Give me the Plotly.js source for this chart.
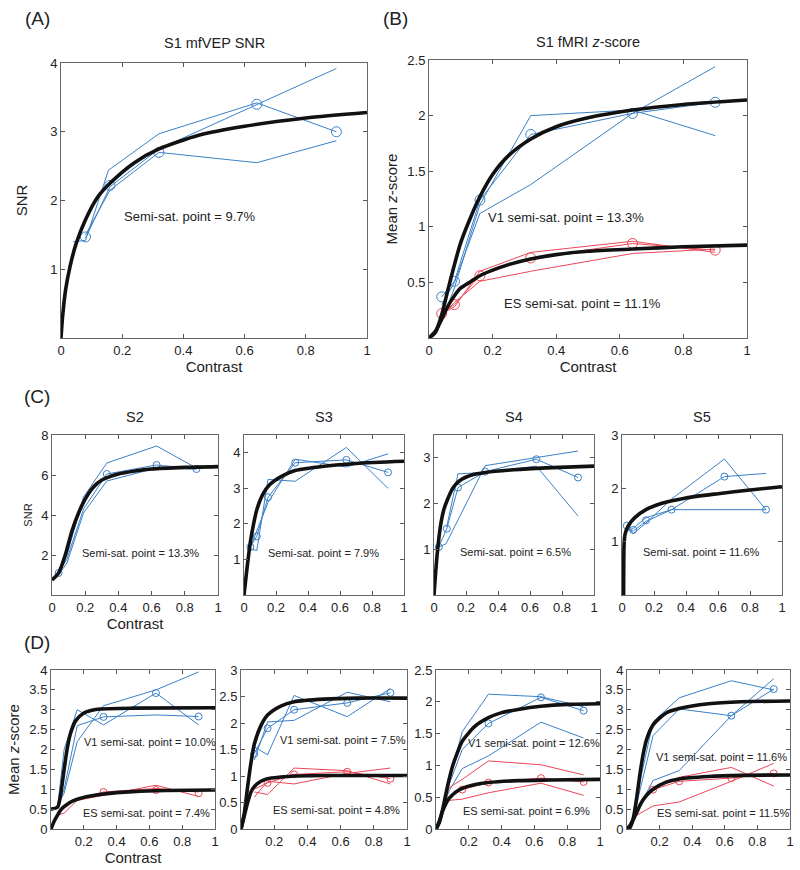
<!DOCTYPE html>
<html><head><meta charset="utf-8">
<script src="https://cdn.plot.ly/plotly-3.0.1.min.js"></script>
<style>html,body{margin:0;padding:0;background:#fff}#chart{width:800px;height:870px}</style>
</head><body><div id="chart"></div>
<script>
// ---------- Panel A : S1 mfVEP SNR ----------
const A_x1 = [0.04,0.08,0.155,0.32,0.64,0.9];
const A_y1 = [1.40,1.42,2.44,2.97,3.42,3.00];
const A_x2 = [0.08,0.16,0.32,0.64,0.9];
const A_y2 = [1.45,2.20,2.75,3.40,3.92];
const A_x3 = [0.08,0.16,0.32,0.64,0.9];
const A_y3 = [1.50,2.15,2.70,2.55,2.87];
const A_cx = [0.08,0.16,0.32,0.64,0.9];
const A_cy = [1.47,2.22,2.70,3.40,3.00];
const A_fx = [0,0.005,0.015,0.03,0.05,0.08,0.12,0.16,0.24,0.32,0.45,0.6,0.8,1];
const A_fy = [0,0.30,0.70,1.05,1.38,1.72,2.05,2.25,2.55,2.75,2.95,3.08,3.20,3.28];

// ---------- Panel B : S1 fMRI z-score ----------
const B_x = [0.04,0.08,0.16,0.32,0.64,0.9];
const B_v1_y1 = [0.15,0.45,1.20,2.00,2.05,1.82];
const B_v1_y2 = [0.30,0.50,1.12,1.38,2.02,2.44];
const B_v1_c  = [0.37,0.51,1.24,1.83,2.02,2.12];
const B_es_y1 = [0.22,0.28,0.60,0.77,0.87,0.77];
const B_es_y2 = [0.20,0.32,0.51,0.60,0.76,0.80];
const B_es_c  = [0.22,0.30,0.56,0.72,0.85,0.79];
const B_fx = [0,0.02,0.04,0.06,0.08,0.1,0.133,0.16,0.2,0.25,0.32,0.4,0.5,0.64,0.8,1];
const B_v1_f = [0,0.05,0.21,0.44,0.66,0.86,1.10,1.27,1.47,1.64,1.79,1.90,1.98,2.05,2.10,2.14];
const B_es_f = [0,0.06,0.17,0.29,0.38,0.45,0.51,0.56,0.61,0.66,0.71,0.75,0.78,0.80,0.82,0.835];

// ---------- Panel C : S2..S5 mfVEP SNR ----------
const C2_x = [0.04,0.09,0.19,0.33,0.63,0.87];
const C2_y1 = [1.1,2.0,4.9,6.6,7.45,6.35];
const C2_y2 = [1.0,1.6,4.1,5.7,6.35,6.3];
const C2_y3 = [1.1,1.8,4.3,6.05,6.5,6.3];
const C2_cx = [0.04,0.33,0.63,0.87];
const C2_cy = [1.1,6.05,6.5,6.3];
const C2_fx = [0,0.04,0.08,0.12,0.16,0.2,0.25,0.3,0.4,0.5,0.6,0.8,1];
const C2_fy = [0.75,1.1,2.0,3.2,4.1,4.8,5.4,5.75,6.05,6.2,6.3,6.38,6.42];

const C3_x = [0.04,0.08,0.15,0.32,0.64,0.9];
const C3_y1 = [1.3,1.25,3.25,3.2,4.15,3.0];
const C3_y2 = [1.35,1.8,2.6,3.82,3.6,3.97];
const C3_y3 = [1.35,1.65,2.75,3.72,3.8,3.45];
const C3_fx = [0,0.02,0.04,0.06,0.08,0.12,0.16,0.24,0.32,0.5,0.7,1];
const C3_fy = [0,0.8,1.5,2.0,2.4,2.85,3.1,3.35,3.5,3.62,3.7,3.76];

const C4_x1 = [0.03,0.075,0.32,0.64,0.9];
const C4_y1 = [1.05,1.12,2.83,3.0,3.15];
const C4_x2 = [0.08,0.15,0.32,0.64,0.9];
const C4_y2 = [1.5,2.65,2.68,2.82,1.73];
const C4_x3 = [0.03,0.08,0.15,0.32,0.64,0.9];
const C4_y3 = [1.05,1.45,2.35,2.7,2.97,2.57];
const C4_fx = [0,0.02,0.04,0.06,0.08,0.12,0.16,0.24,0.32,0.5,0.7,1];
const C4_fy = [0,0.9,1.5,1.85,2.05,2.35,2.5,2.63,2.68,2.74,2.78,2.82];

const C5_x = [0.03,0.07,0.15,0.31,0.64,0.9];
const C5_y1 = [1.25,1.2,1.38,1.6,2.22,2.28];
const C5_y2 = [1.3,1.15,1.35,1.8,2.55,1.6];
const C5_x3 = [0.03,0.07,0.15,0.31,0.9];
const C5_y3 = [1.2,1.25,1.45,1.6,1.6];
const C5_cy = [1.3,1.22,1.4,1.6,2.22,1.6];
const C5_fx = [0.01,0.011,0.013,0.02,0.04,0.08,0.15,0.25,0.4,0.6,0.8,1];
const C5_fy = [0,0.6,0.95,1.15,1.3,1.45,1.6,1.72,1.82,1.9,1.97,2.03];

// ---------- Panel D : S2..S5 fMRI z-score ----------
const D1_x = [0.04,0.08,0.16,0.32,0.64,0.9];
const D1_v1_y1 = [0.55,2.0,3.0,2.62,3.42,2.62];
const D1_v1_y2 = [0.6,0.9,2.2,3.1,3.5,3.95];
const D1_v1_y3 = [0.55,1.0,2.6,2.82,2.87,2.83];
const D1_v1_cx = [0.32,0.64,0.9];
const D1_v1_cy = [2.82,3.42,2.83];
const D1_es_y1 = [0.35,0.4,0.72,0.85,1.1,0.82];
const D1_es_y2 = [0.4,0.6,0.75,0.93,1.02,0.93];
const D1_es_cx = [0.32,0.64,0.9];
const D1_es_cy = [0.93,0.98,0.9];
const D1_fx = [0,0.04,0.06,0.08,0.1,0.12,0.15,0.2,0.25,0.3,0.5,1];
const D1_v1_f = [0.5,0.55,0.9,1.5,2.05,2.42,2.72,2.92,2.99,3.02,3.04,3.05];
const D1_efx = [0,0.02,0.04,0.06,0.08,0.12,0.16,0.24,0.32,0.5,0.7,1];
const D1_es_f = [0,0.2,0.35,0.48,0.56,0.68,0.75,0.83,0.88,0.94,0.97,0.98];

const D2_x = [0.08,0.16,0.32,0.64,0.9];
const D2_v1_y1 = [1.55,1.4,2.52,2.12,2.65];
const D2_v1_y2 = [1.3,2.02,2.05,2.58,2.4];
const D2_v1_y3 = [1.42,1.9,2.25,2.38,2.57];
const D2_es_y1 = [0.7,0.65,1.15,1.1,0.85];
const D2_es_y2 = [0.6,0.9,0.85,1.05,1.15];
const D2_es_y3 = [0.75,0.87,1.03,1.08,0.95];
const D2_fx = [0,0.02,0.04,0.06,0.08,0.12,0.16,0.24,0.32,0.5,0.7,1];
const D2_v1_f = [0,0.3,0.8,1.25,1.6,1.95,2.15,2.32,2.4,2.45,2.47,2.47];
const D2_es_f = [0,0.25,0.5,0.7,0.8,0.9,0.95,0.98,1.0,1.01,1.01,1.01];

const D3_x = [0.04,0.08,0.16,0.32,0.64,0.9];
const D3_v1_y1 = [0.3,0.75,1.53,2.12,2.08,1.92];
const D3_v1_y2 = [0.3,0.6,0.95,1.15,1.68,1.43];
const D3_v1_y3 = [0.3,0.7,1.25,1.66,2.07,1.86];
const D3_v1_cx = [0.32,0.64,0.9];
const D3_v1_cy = [1.66,2.07,1.86];
const D3_es_y1 = [0.3,0.65,0.78,1.07,1.01,0.85];
const D3_es_y2 = [0.25,0.45,0.47,0.57,0.72,0.53];
const D3_es_y3 = [0.25,0.5,0.62,0.73,0.8,0.74];
const D3_es_cx = [0.16,0.32,0.64,0.9];
const D3_es_cy = [0.62,0.73,0.8,0.74];
const D3_fx = [0,0.02,0.04,0.06,0.08,0.1,0.126,0.16,0.24,0.32,0.4,0.5,0.64,0.8,1];
const D3_v1_f = [0,0.1,0.3,0.55,0.78,0.98,1.17,1.38,1.62,1.75,1.83,1.88,1.93,1.96,1.97];
const D3_efx = [0,0.02,0.04,0.06,0.08,0.12,0.16,0.24,0.32,0.5,0.7,1];
const D3_es_f = [0,0.12,0.28,0.4,0.48,0.58,0.64,0.7,0.73,0.76,0.77,0.78];

const D4_x = [0.04,0.08,0.16,0.32,0.64,0.9];
const D4_v1_y1 = [0.3,1.2,2.7,3.3,3.73,3.5];
const D4_v1_y2 = [0.3,1.0,2.35,3.02,2.85,3.52];
const D4_v1_y3 = [0.3,0.6,1.22,1.47,2.85,3.78];
const D4_v1_cx = [0.64,0.9];
const D4_v1_cy = [2.85,3.52];
const D4_es_y1 = [0.3,0.4,0.58,0.68,1.2,1.65];
const D4_es_y2 = [0.3,0.6,1.0,1.3,1.55,1.08];
const D4_es_y3 = [0.3,0.6,0.99,1.2,1.28,1.4];
const D4_es_cx = [0.16,0.32,0.64,0.9];
const D4_es_cy = [0.99,1.2,1.28,1.4];
const D4_fx = [0,0.02,0.04,0.06,0.08,0.1,0.12,0.16,0.24,0.32,0.5,0.7,1];
const D4_v1_f = [0,0.05,0.3,0.8,1.4,1.9,2.25,2.62,2.92,3.03,3.15,3.2,3.22];
const D4_es_f = [0,0.1,0.25,0.42,0.6,0.74,0.85,1.0,1.18,1.26,1.32,1.35,1.36];

// ---------- Tick labels / texts ----------
const xTicksFull = [0,0.2,0.4,0.6,0.8,1];
const xTicksNoZero = [0.2,0.4,0.6,0.8,1];
const panelLetters = ['(A)','(B)','(C)','(D)'];
const cTitles = ['S2','S3','S4','S5'];
const semiTexts = {
  A: 'Semi-sat. point = 9.7%',
  Bv: 'V1 semi-sat. point = 13.3%', Be: 'ES semi-sat. point = 11.1%',
  C: ['Semi-sat. point = 13.3%','Semi-sat. point = 7.9%','Semi-sat. point = 6.5%','Semi-sat. point = 11.6%'],
  Dv: ['V1 semi-sat. point = 10.0%','V1 semi-sat. point = 7.5%','V1 semi-sat. point = 12.6%','V1 semi-sat. point = 11.6%'],
  De: ['ES semi-sat. point = 7.4%','ES semi-sat. point = 4.8%','ES semi-sat. point = 6.9%','ES semi-sat. point = 11.5%']
};

// ---------- styles ----------
const BLUE = '#3a80c8', RED = '#ec4656', FONT = 'Liberation Sans, Arial, sans-serif', TXT = '#222';
const traces = [];
function ln(ax, x, y, c){ traces.push({x:x, y:y, xaxis:'x'+ax, yaxis:'y'+ax, mode:'lines', line:{color:c, width:1}, hoverinfo:'skip', showlegend:false}); }
function circ(ax, x, y, c, s){ traces.push({x:x, y:y, xaxis:'x'+ax, yaxis:'y'+ax, mode:'markers', marker:{symbol:'circle-open', color:c, size:s, line:{width:1, color:c}}, hoverinfo:'skip', showlegend:false}); }
function fit(ax, x, y){ traces.push({x:x, y:y, xaxis:'x'+ax, yaxis:'y'+ax, mode:'lines', line:{color:'#111', width:3.6, shape:'spline', smoothing:0.7}, hoverinfo:'skip', showlegend:false}); }

// A (axis 1)
ln(1,A_x1,A_y1,BLUE); ln(1,A_x2,A_y2,BLUE); ln(1,A_x3,A_y3,BLUE); circ(1,A_cx,A_cy,BLUE,10); fit(1,A_fx,A_fy);
// B (axis 2)
ln(2,B_x,B_v1_y1,BLUE); ln(2,B_x,B_v1_y2,BLUE); ln(2,B_x,B_v1_c,BLUE); circ(2,B_x,B_v1_c,BLUE,10);
ln(2,B_x,B_es_y1,RED); ln(2,B_x,B_es_y2,RED); ln(2,B_x,B_es_c,RED); circ(2,B_x,B_es_c,RED,10);
fit(2,B_fx,B_v1_f); fit(2,B_fx,B_es_f);
// C (axes 3-6)
ln(3,C2_x,C2_y1,BLUE); ln(3,C2_x,C2_y2,BLUE); ln(3,C2_x,C2_y3,BLUE); circ(3,C2_cx,C2_cy,BLUE,7); fit(3,C2_fx,C2_fy);
ln(4,C3_x,C3_y1,BLUE); ln(4,C3_x,C3_y2,BLUE); ln(4,C3_x,C3_y3,BLUE); circ(4,C3_x,C3_y3,BLUE,7); fit(4,C3_fx,C3_fy);
ln(5,C4_x1,C4_y1,BLUE); ln(5,C4_x2,C4_y2,BLUE); ln(5,C4_x3,C4_y3,BLUE); circ(5,C4_x3,C4_y3,BLUE,7); fit(5,C4_fx,C4_fy);
ln(6,C5_x,C5_y1,BLUE); ln(6,C5_x,C5_y2,BLUE); ln(6,C5_x3,C5_y3,BLUE); circ(6,C5_x,C5_cy,BLUE,7); fit(6,C5_fx,C5_fy);
// D (axes 7-10)
ln(7,D1_x,D1_v1_y1,BLUE); ln(7,D1_x,D1_v1_y2,BLUE); ln(7,D1_x,D1_v1_y3,BLUE); circ(7,D1_v1_cx,D1_v1_cy,BLUE,7);
ln(7,D1_x,D1_es_y1,RED); ln(7,D1_x,D1_es_y2,RED); circ(7,D1_es_cx,D1_es_cy,RED,7);
fit(7,D1_fx,D1_v1_f); fit(7,D1_efx,D1_es_f);
ln(8,D2_x,D2_v1_y1,BLUE); ln(8,D2_x,D2_v1_y2,BLUE); ln(8,D2_x,D2_v1_y3,BLUE); circ(8,D2_x,D2_v1_y3,BLUE,7);
ln(8,D2_x,D2_es_y1,RED); ln(8,D2_x,D2_es_y2,RED); ln(8,D2_x,D2_es_y3,RED); circ(8,D2_x.slice(1),D2_es_y3.slice(1),RED,7);
fit(8,D2_fx,D2_v1_f); fit(8,D2_fx,D2_es_f);
ln(9,D3_x,D3_v1_y1,BLUE); ln(9,D3_x,D3_v1_y2,BLUE); ln(9,D3_x,D3_v1_y3,BLUE); circ(9,D3_v1_cx,D3_v1_cy,BLUE,7);
ln(9,D3_x,D3_es_y1,RED); ln(9,D3_x,D3_es_y2,RED); ln(9,D3_x,D3_es_y3,RED); circ(9,D3_es_cx,D3_es_cy,RED,7);
fit(9,D3_fx,D3_v1_f); fit(9,D3_efx,D3_es_f);
ln(10,D4_x,D4_v1_y1,BLUE); ln(10,D4_x,D4_v1_y2,BLUE); ln(10,D4_x,D4_v1_y3,BLUE); circ(10,D4_v1_cx,D4_v1_cy,BLUE,7);
ln(10,D4_x,D4_es_y1,RED); ln(10,D4_x,D4_es_y2,RED); ln(10,D4_x,D4_es_y3,RED); circ(10,D4_es_cx,D4_es_cy,RED,7);
fit(10,D4_fx,D4_v1_f); fit(10,D4_fx,D4_es_f);

// ---------- layout ----------
const W = 800, H = 870;
const px = v => v / W, py = v => 1 - v / H;
function xa(l, r, ticks, title, anchor, fs){
  return {domain:[px(l),px(r)], range:[0,1], anchor:anchor, tickvals:ticks, ticks:'inside', ticklen:4, tickcolor:'#555',
    showline:true, linecolor:'#666', linewidth:1, mirror:'ticks', showgrid:false, zeroline:false,
    tickfont:{family:FONT, size:fs, color:TXT}, title: title ? {text:title, font:{family:FONT, size:15, color:TXT}, standoff:4} : {text:''}};
}
function ya(t, b, range, ticks, title, anchor, fs, tfs, so){
  return {domain:[py(b),py(t)], range:range, anchor:anchor, tickvals:ticks, ticks:'inside', ticklen:4, tickcolor:'#555',
    showline:true, linecolor:'#666', linewidth:1, mirror:'ticks', showgrid:false, zeroline:false,
    tickfont:{family:FONT, size:fs, color:TXT}, title: title ? {text:title, font:{family:FONT, size:tfs||15, color:TXT}, standoff:(so===undefined?6:so)} : {text:''}};
}
const layout = {
  width:W, height:H, margin:{l:0,r:0,t:0,b:0}, paper_bgcolor:'#fff', plot_bgcolor:'#fff', showlegend:false,
  xaxis:  xa(61,367, xTicksFull, 'Contrast', 'y', 13),
  yaxis:  ya(63,338, [0,4], [1,2,3,4], 'SNR', 'x', 13, 15, 18),
  xaxis2: xa(429,747, xTicksFull, 'Contrast', 'y2', 13),
  yaxis2: ya(60,338, [0,2.5], [0.5,1,1.5,2,2.5], 'Mean <i>z</i>-score', 'x2', 13),
  xaxis3: xa(52,218, xTicksFull, 'Contrast', 'y3', 13),
  yaxis3: ya(435,595, [0,8], [2,4,6,8], 'SNR', 'x3', 13, 11),
  xaxis4: xa(244,404, xTicksFull, '', 'y4', 13),
  yaxis4: ya(435,595, [0,4.5], [1,2,3,4], '', 'x4', 13),
  xaxis5: xa(434,594, xTicksFull, '', 'y5', 13),
  yaxis5: ya(435,595, [0,3.5], [1,2,3], '', 'x5', 13),
  xaxis6: xa(622,782, xTicksFull, '', 'y6', 13),
  yaxis6: ya(435,595, [0,3], [1,2,3], '', 'x6', 13),
  xaxis7: xa(51,215, xTicksNoZero, 'Contrast', 'y7', 13),
  yaxis7: ya(670,829, [0,4], [0,0.5,1,1.5,2,2.5,3,3.5,4], 'Mean <i>z</i>-score', 'x7', 13),
  xaxis8: xa(241,407, xTicksNoZero, '', 'y8', 13),
  yaxis8: ya(670,829, [0,3], [0,0.5,1,1.5,2,2.5,3], '', 'x8', 13),
  xaxis9: xa(436,600, xTicksNoZero, '', 'y9', 13),
  yaxis9: ya(670,829, [0,2.5], [0,0.5,1,1.5,2,2.5], '', 'x9', 13),
  xaxis10: xa(627,790, xTicksNoZero, '', 'y10', 13),
  yaxis10: ya(670,829, [0,4], [0,0.5,1,1.5,2,2.5,3,3.5,4], '', 'x10', 13),
  annotations: []
};
const ann = layout.annotations;
function paperText(text, x, y, size, xanchor){
  ann.push({text:text, xref:'paper', yref:'paper', x:px(x), y:py(y), xanchor:xanchor||'center', yanchor:'middle', showarrow:false, font:{family:FONT, size:size, color:TXT}});
}
function dataText(ax, text, x, y, size){
  ann.push({text:text, xref:'x'+ax, yref:'y'+ax, x:x, y:y, xanchor:'left', yanchor:'middle', showarrow:false, font:{family:FONT, size:size, color:TXT}});
}
// panel letters
paperText(panelLetters[0], 37, 18, 19);
paperText(panelLetters[1], 395, 18, 19);
paperText(panelLetters[2], 37, 396, 19);
paperText(panelLetters[3], 37, 642, 19);
// titles
paperText('S1 mfVEP SNR', 214, 43, 14.5);
paperText('S1 fMRI <i>z</i>-score', 588, 42, 14.5);
const cCenters = [135, 324, 514, 702];
cTitles.forEach((t,i) => paperText(t, cCenters[i], 417, 14.5));
// semi-saturation labels
dataText(1, semiTexts.A, 0.2, 1.77, 13);
dataText(2, semiTexts.Bv, 0.18, 1.08, 13);
dataText(2, semiTexts.Be, 0.23, 0.31, 13);
const cPos = [[0.17,2.08],[0.14,1.17],[0.15,0.94],[0.12,0.81]];
semiTexts.C.forEach((t,i) => dataText(3+i, t, cPos[i][0], cPos[i][1], 11));
const dvPos = [[0.19,2.2],[0.22,1.68],[0.18,1.35],[0.165,1.82]];
const dePos = [[0.185,0.4],[0.18,0.36],[0.15,0.28],[0.17,0.41]];
semiTexts.Dv.forEach((t,i) => dataText(7+i, t, dvPos[i][0], dvPos[i][1], 11));
semiTexts.De.forEach((t,i) => dataText(7+i, t, dePos[i][0], dePos[i][1], 11));

Plotly.newPlot('chart', traces, layout, {staticPlot:true, displayModeBar:false});
</script>
</body></html>
